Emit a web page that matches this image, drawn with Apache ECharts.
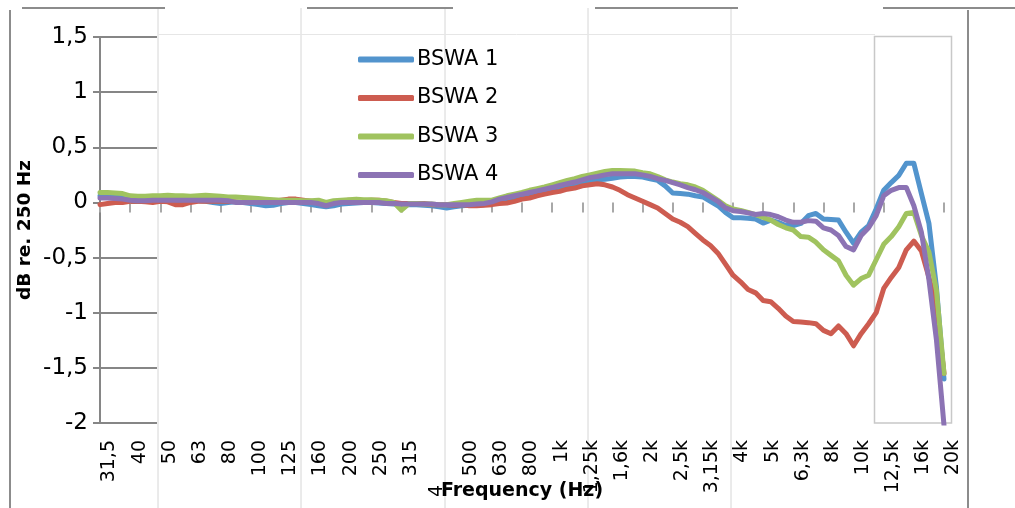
<!DOCTYPE html>
<html>
<head>
<meta charset="utf-8">
<script src="https://cdn.jsdelivr.net/npm/echarts@6/dist/echarts.min.js"></script>
<style>
html,body{margin:0;padding:0;background:#fff;}
#chart{width:1015px;height:508px;}
</style>
</head>
<body>
<div id="chart"></div>
<script>
// 1/3-octave band tick labels (one label every 4 points, 1/12-octave data)
const bandLabels = ['31,5','40','50','63','80','100','125','160','200','250','315','400','500','630','800','1k','1,25k','1,6k','2k','2,5k','3,15k','4k','5k','6,3k','8k','10k','12,5k','16k','20k'];
const pointsPerBand = 4;
const seriesNames = ['BSWA 1','BSWA 2','BSWA 3','BSWA 4'];
const yTicks = {min: -2, max: 1.5, interval: 0.5};

const bswa1 = [0.06,0.06,0.055,0.05,0.05,0.05,0.045,0.04,0.02,0.01,
  0.01,0.015,0.015,0.015,0.01,0.0,-0.01,0.0,0.005,0.0,
  -0.01,-0.02,-0.03,-0.025,-0.01,0.0,0.0,-0.01,-0.02,-0.03,
  -0.04,-0.03,-0.015,-0.01,-0.005,0.0,0.0,-0.005,-0.01,-0.015,
  -0.02,-0.02,-0.02,-0.025,-0.03,-0.04,-0.05,-0.04,-0.03,-0.025,
  -0.02,-0.02,-0.01,0.0,0.02,0.04,0.06,0.07,0.09,0.10,
  0.115,0.135,0.155,0.17,0.18,0.19,0.205,0.21,0.22,0.23,
  0.235,0.236,0.23,0.215,0.20,0.15,0.085,0.08,0.075,0.06,
  0.05,0.01,-0.03,-0.09,-0.139,-0.139,-0.143,-0.15,-0.187,-0.16,
  -0.18,-0.21,-0.21,-0.19,-0.12,-0.10,-0.15,-0.155,-0.16,-0.27,
  -0.37,-0.27,-0.21,-0.06,0.11,0.18,0.245,0.355,0.355,0.08,-0.19,-0.77,-1.60];

const bswa2 = [-0.02,-0.01,0.0,0.0,0.01,0.01,0.005,0.0,0.01,0.005,
  -0.02,-0.02,0.0,0.01,0.01,0.01,0.01,0.01,0.005,0.0,
  0.0,0.0,0.0,0.01,0.02,0.03,0.03,0.02,0.01,0.0,
  -0.01,0.0,0.01,0.02,0.015,0.015,0.02,0.02,0.01,0.0,
  -0.01,-0.01,-0.01,-0.01,-0.02,-0.02,-0.02,-0.025,-0.02,-0.03,
  -0.03,-0.025,-0.02,-0.01,-0.005,0.01,0.03,0.04,0.06,0.075,
  0.09,0.10,0.12,0.13,0.15,0.16,0.17,0.16,0.14,0.11,
  0.07,0.04,0.01,-0.02,-0.05,-0.10,-0.15,-0.18,-0.22,-0.28,
  -0.34,-0.39,-0.46,-0.56,-0.66,-0.72,-0.79,-0.82,-0.89,-0.90,
  -0.96,-1.03,-1.08,-1.085,-1.09,-1.10,-1.16,-1.19,-1.12,-1.19,
  -1.30,-1.19,-1.10,-1.00,-0.78,-0.68,-0.59,-0.43,-0.35,-0.44,-0.68,-0.95,-1.55];

const bswa3 = [0.09,0.09,0.085,0.08,0.06,0.055,0.055,0.06,0.06,0.065,
  0.06,0.06,0.055,0.06,0.065,0.06,0.055,0.05,0.05,0.045,
  0.04,0.035,0.03,0.025,0.02,0.02,0.02,0.015,0.015,0.02,
  0.0,0.015,0.02,0.025,0.03,0.025,0.025,0.02,0.015,0.0,
  -0.07,-0.01,-0.01,-0.015,-0.015,-0.02,-0.02,-0.01,0.0,0.01,
  0.02,0.02,0.02,0.04,0.06,0.075,0.09,0.11,0.125,0.14,
  0.16,0.18,0.20,0.215,0.235,0.25,0.265,0.28,0.29,0.29,
  0.287,0.284,0.27,0.26,0.235,0.205,0.185,0.17,0.16,0.14,
  0.11,0.065,0.02,-0.03,-0.06,-0.073,-0.09,-0.11,-0.135,-0.16,
  -0.20,-0.23,-0.25,-0.31,-0.315,-0.36,-0.43,-0.48,-0.53,-0.66,
  -0.75,-0.69,-0.66,-0.52,-0.38,-0.31,-0.22,-0.10,-0.09,-0.30,-0.45,-0.80,-1.55];

const bswa4 = [0.04,0.04,0.035,0.03,0.02,0.015,0.015,0.02,0.02,0.02,
  0.02,0.02,0.02,0.02,0.02,0.02,0.02,0.015,0.0,0.0,
  0.0,0.0,0.0,0.0,0.0,0.0,0.0,0.0,0.0,-0.01,
  -0.03,-0.01,0.0,0.0,0.0,0.0,0.0,0.0,-0.01,-0.01,
  -0.015,-0.015,-0.015,-0.015,-0.015,-0.02,-0.02,-0.02,-0.02,-0.02,
  -0.015,-0.01,0.005,0.03,0.045,0.06,0.075,0.09,0.105,0.12,
  0.135,0.155,0.17,0.185,0.205,0.225,0.235,0.25,0.26,0.26,
  0.26,0.26,0.25,0.236,0.215,0.20,0.18,0.16,0.135,0.115,
  0.09,0.05,0.01,-0.05,-0.075,-0.082,-0.095,-0.11,-0.10,-0.11,
  -0.13,-0.16,-0.18,-0.18,-0.165,-0.17,-0.23,-0.25,-0.30,-0.40,
  -0.43,-0.30,-0.23,-0.12,0.06,0.11,0.135,0.135,-0.03,-0.27,-0.70,-1.25,-2.02];

const seriesData = [bswa1, bswa2, bswa3, bswa4];
const colors = ['#5294CD','#CD5C50','#A0C35F','#8C73B4'];

const nPoints = bswa1.length;
const categories = [];
for (let i = 0; i < nPoints; i++) categories.push('p' + i);

const FONT = 'DejaVu Sans';
const chart = echarts.init(document.getElementById('chart'), null, {renderer: 'canvas'});

const vline = (x, y1, y2, color, w) => ({type: 'line', z: -10, silent: true,
  shape: {x1: x, y1: y1, x2: x, y2: y2}, style: {stroke: color, lineWidth: w}});
const hline = (y, x1, x2, color, w) => ({type: 'line', z: -10, silent: true,
  shape: {x1: x1, y1: y, x2: x2, y2: y}, style: {stroke: color, lineWidth: w}});

const cellColor = '#d6d6d6';
const frameColor = '#8c8c8c';

const option = {
  backgroundColor: '#ffffff',
  animation: false,
  color: colors,
  textStyle: {fontFamily: FONT},
  graphic: {elements: [
    vline(158, 8, 508, cellColor, 1),
    vline(301, 8, 508, cellColor, 1),
    vline(445, 8, 508, cellColor, 1),
    vline(588, 8, 508, cellColor, 1),
    vline(731, 8, 508, cellColor, 1),
    hline(34.5, 158, 875, '#e6e6e6', 1),
    {type: 'rect', z: -10, silent: true, shape: {x: 874.5, y: 36.5, width: 77, height: 386.5},
      style: {fill: null, stroke: '#c8c8c8', lineWidth: 1.5}},
    hline(8, 22, 165, frameColor, 2),
    hline(8, 307, 453, frameColor, 2),
    hline(8, 595, 738, frameColor, 2),
    hline(8, 883, 1015, frameColor, 2),
    vline(10, 10, 508, frameColor, 2),
    vline(968, 10, 508, frameColor, 2),
    {type: 'text', z: 10, silent: true, x: 437, y: 491, rotation: Math.PI / 2,
      style: {text: '4', fill: '#000', font: '19px "DejaVu Sans"', align: 'center', verticalAlign: 'middle'}}
  ]},
  legend: {
    orient: 'vertical',
    left: 353,
    top: 44,
    itemWidth: 56,
    itemHeight: 6,
    itemGap: 17.5,
    icon: 'roundRect',
    data: seriesNames,
    textStyle: {fontFamily: FONT, fontSize: 21, color: '#000', padding: [0, 0, 0, -2]}
  },
  grid: [
    {left: 100, right: 71, top: 37, bottom: 85, outerBoundsMode: 'none', containLabel: false},
    {left: 100, width: 57, top: 37, bottom: 85, outerBoundsMode: 'none', containLabel: false}
  ],
  xAxis: [
    {
      type: 'category',
      gridIndex: 0,
      data: categories,
      boundaryGap: false,
      name: 'Frequency (Hz)',
      nameLocation: 'middle',
      nameGap: 59,
      nameMoveOverlap: false,
      nameTextStyle: {fontFamily: FONT, fontSize: 19, fontWeight: 'bold', color: '#000'},
      axisLine: {show: false},
      axisTick: {show: true, interval: pointsPerBand - 1, length: 10, lineStyle: {color: '#a8a8a8', width: 2}},
      axisLabel: {
        interval: pointsPerBand - 1,
        rotate: 90,
        margin: 17,
        verticalAlign: 'top',
        hideOverlap: false,
        fontFamily: FONT,
        fontSize: 19,
        color: '#000',
        formatter: function (v, idx) {
          const b = bandLabels[Math.round(idx / pointsPerBand)];
          return b === '400' ? '' : b;
        }
      },
      splitLine: {show: false}
    },
    {type: 'value', gridIndex: 1, show: false, min: 0, max: 1}
  ],
  yAxis: [
    {
      type: 'value',
      gridIndex: 0,
      min: yTicks.min,
      max: yTicks.max,
      interval: yTicks.interval,
      name: 'dB re. 250 Hz',
      nameLocation: 'middle',
      nameGap: 65,
      nameMoveOverlap: false,
      nameTextStyle: {fontFamily: FONT, fontSize: 18.5, fontWeight: 'bold', color: '#000'},
      axisLine: {show: true, lineStyle: {color: '#868686', width: 2}},
      axisTick: {show: true, length: 7, lineStyle: {color: '#868686', width: 2}},
      axisLabel: {
        margin: 12,
        fontFamily: FONT,
        fontSize: 23,
        color: '#000',
        formatter: function (v) { return String(v).replace('.', ','); }
      },
      splitLine: {show: false}
    },
    {
      type: 'value',
      gridIndex: 1,
      min: yTicks.min,
      max: yTicks.max,
      interval: yTicks.interval,
      axisLine: {show: false},
      axisTick: {show: false},
      axisLabel: {show: false},
      splitLine: {show: true, lineStyle: {color: '#868686', width: 2}}
    }
  ],
  series: seriesNames.map((name, k) => ({
    name: name,
    type: 'line',
    xAxisIndex: 0,
    yAxisIndex: 0,
    data: seriesData[k],
    showSymbol: false,
    symbol: 'none',
    clip: true,
    lineStyle: {width: 5, color: colors[k], cap: 'round', join: 'round'},
    itemStyle: {color: colors[k]},
    z: 2 + k
  }))
};
chart.setOption(option);
</script>
</body>
</html>
